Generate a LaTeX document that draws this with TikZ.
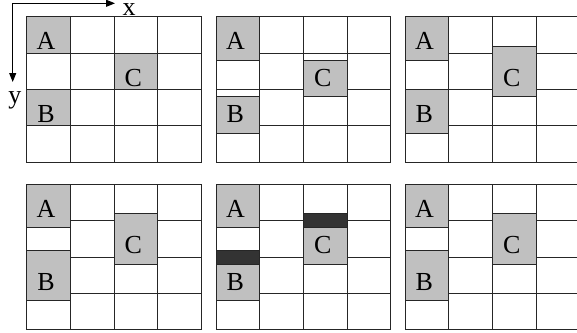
\documentclass[tikz,border=0pt]{standalone}
\usepackage{fontspec}
\setmainfont{Liberation Serif}
\usetikzlibrary{arrows.meta}

\definecolor{boxgray}{HTML}{C0C0C0}
\definecolor{bargray}{HTML}{333333}
\definecolor{linegray}{HTML}{262626}

\begin{document}
\begin{tikzpicture}[x=1pt, y=-1pt, >={Triangle[length=9pt,width=7pt]},
    gridline/.style={draw=linegray, line width=1pt},
    cellbox/.style={fill=boxgray, draw=linegray, line width=1pt},
    barbox/.style={fill=bargray, draw=linegray, line width=1pt},
    lbl/.style={anchor=base, inner sep=0pt, font=\fontsize{26}{30}\selectfont}]
    \useasboundingbox (0,0) rectangle (577,332);
    \clip (0,0) rectangle (577,332);

    % axes
    \coordinate (o) at (12.7,3.3);
    \coordinate (xtip) at (115,3.3);
    \coordinate (ytip) at (12.7,82);
    \node[lbl] (xlab) at (129,15.5) {x};
    \node[lbl] (ylab) at (15,103.5) {y};
    \draw[<->, line width=1pt] (xtip) -- (o) -- (ytip);

    % panel 1: regular grid
    \begin{scope}[shift={(26.7,16.7)}]
        \draw[gridline] (0,0) rectangle (174.8,145.6);
        \draw[gridline] (43.7,0) -- (43.7,145.6) (87.4,0) -- (87.4,145.6) (131.1,0) -- (131.1,145.6);
        \draw[gridline] (0,36.4) -- (174.8,36.4) (0,72.8) -- (174.8,72.8) (0,109.2) -- (174.8,109.2);
        \draw[cellbox] (0,0) rectangle (43.7,36.4);
        \draw[cellbox] (87.4,36.4) rectangle (131.1,72.8);
        \draw[cellbox] (0,72.8) rectangle (43.7,109.2);
        \node[lbl] (a1) at (19.4,32.9) {A};
        \node[lbl] (c1) at (106.7,69.3) {C};
        \node[lbl] (b1) at (19.4,105.7) {B};
    \end{scope}

    % panel 2: A grows, B and C pushed down
    \begin{scope}[shift={(216,16.7)}]
        \draw[gridline] (0,0) rectangle (174.8,145.6);
        \draw[gridline] (43.7,0) -- (43.7,145.6) (87.4,0) -- (87.4,145.6) (131.1,0) -- (131.1,145.6);
        \draw[gridline] (43.7,36.4) -- (174.8,36.4) (0,72.8) -- (87.4,72.8) (131.1,72.8) -- (174.8,72.8)
            (43.7,109.2) -- (174.8,109.2);
        \draw[cellbox] (0,0) rectangle (43.7,43.6);
        \draw[cellbox] (87.4,43.6) rectangle (131.1,80.2);
        \draw[cellbox] (0,80) rectangle (43.7,116.6);
        \node[lbl] (a2) at (19.4,32.9) {A};
        \node[lbl] (c2) at (106.7,69.3) {C};
        \node[lbl] (b2) at (19.4,105.7) {B};
    \end{scope}

    % panel 3: B and C grow upwards
    \begin{scope}[shift={(405,16.7)}]
        \draw[gridline] (0,0) rectangle (174.8,145.6);
        \draw[gridline] (43.7,0) -- (43.7,145.6) (87.4,0) -- (87.4,145.6) (131.1,0) -- (131.1,145.6);
        \draw[gridline] (43.7,36.4) -- (87.4,36.4) (131.1,36.4) -- (174.8,36.4)
            (43.7,72.8) -- (87.4,72.8) (131.1,72.8) -- (174.8,72.8) (43.7,109.2) -- (174.8,109.2);
        \draw[cellbox] (0,0) rectangle (43.7,43.6);
        \draw[cellbox] (87.4,30) rectangle (131.1,80.2);
        \draw[cellbox] (0,72.8) rectangle (43.7,116.6);
        \node[lbl] (a3) at (19.4,32.9) {A};
        \node[lbl] (c3) at (106.7,69.3) {C};
        \node[lbl] (b3) at (19.4,105.7) {B};
    \end{scope}

    % panel 4
    \begin{scope}[shift={(26.7,184.3)}]
        \draw[gridline] (0,0) rectangle (174.8,145.6);
        \draw[gridline] (43.7,0) -- (43.7,145.6) (87.4,0) -- (87.4,145.6) (131.1,0) -- (131.1,145.6);
        \draw[gridline] (43.7,36.4) -- (87.4,36.4) (131.1,36.4) -- (174.8,36.4)
            (43.7,72.8) -- (87.4,72.8) (131.1,72.8) -- (174.8,72.8) (43.7,109.2) -- (174.8,109.2);
        \draw[cellbox] (0,0) rectangle (43.7,43.4);
        \draw[cellbox] (87.4,29.4) rectangle (131.1,80);
        \draw[cellbox] (0,65.7) rectangle (43.7,116.4);
        \node[lbl] (a4) at (19.4,32.9) {A};
        \node[lbl] (c4) at (106.7,69.3) {C};
        \node[lbl] (b4) at (19.4,105.7) {B};
    \end{scope}

    % panel 5: grown parts marked dark
    \begin{scope}[shift={(216,184.3)}]
        \draw[gridline] (0,0) rectangle (174.8,145.6);
        \draw[gridline] (43.7,0) -- (43.7,145.6) (87.4,0) -- (87.4,145.6) (131.1,0) -- (131.1,145.6);
        \draw[gridline] (43.7,36.4) -- (87.4,36.4) (131.1,36.4) -- (174.8,36.4)
            (43.7,72.8) -- (87.4,72.8) (131.1,72.8) -- (174.8,72.8) (43.7,109.2) -- (174.8,109.2);
        \draw[cellbox] (0,0) rectangle (43.7,43.4);
        \draw[barbox] (87.4,29.4) rectangle (131.1,43.4);
        \draw[cellbox] (87.4,43.4) rectangle (131.1,80);
        \draw[barbox] (0,65.7) rectangle (43.7,80);
        \draw[cellbox] (0,80) rectangle (43.7,116.4);
        \node[lbl] (a5) at (19.4,32.9) {A};
        \node[lbl] (c5) at (106.7,69.3) {C};
        \node[lbl] (b5) at (19.4,105.7) {B};
    \end{scope}

    % panel 6
    \begin{scope}[shift={(405,184.3)}]
        \draw[gridline] (0,0) rectangle (174.8,145.6);
        \draw[gridline] (43.7,0) -- (43.7,145.6) (87.4,0) -- (87.4,145.6) (131.1,0) -- (131.1,145.6);
        \draw[gridline] (43.7,36.4) -- (87.4,36.4) (131.1,36.4) -- (174.8,36.4)
            (43.7,72.8) -- (87.4,72.8) (131.1,72.8) -- (174.8,72.8) (43.7,109.2) -- (174.8,109.2);
        \draw[cellbox] (0,0) rectangle (43.7,43.4);
        \draw[cellbox] (87.4,29.4) rectangle (131.1,80);
        \draw[cellbox] (0,65.7) rectangle (43.7,116.4);
        \node[lbl] (a6) at (19.4,32.9) {A};
        \node[lbl] (c6) at (106.7,69.3) {C};
        \node[lbl] (b6) at (19.4,105.7) {B};
    \end{scope}
\end{tikzpicture}
\end{document}
